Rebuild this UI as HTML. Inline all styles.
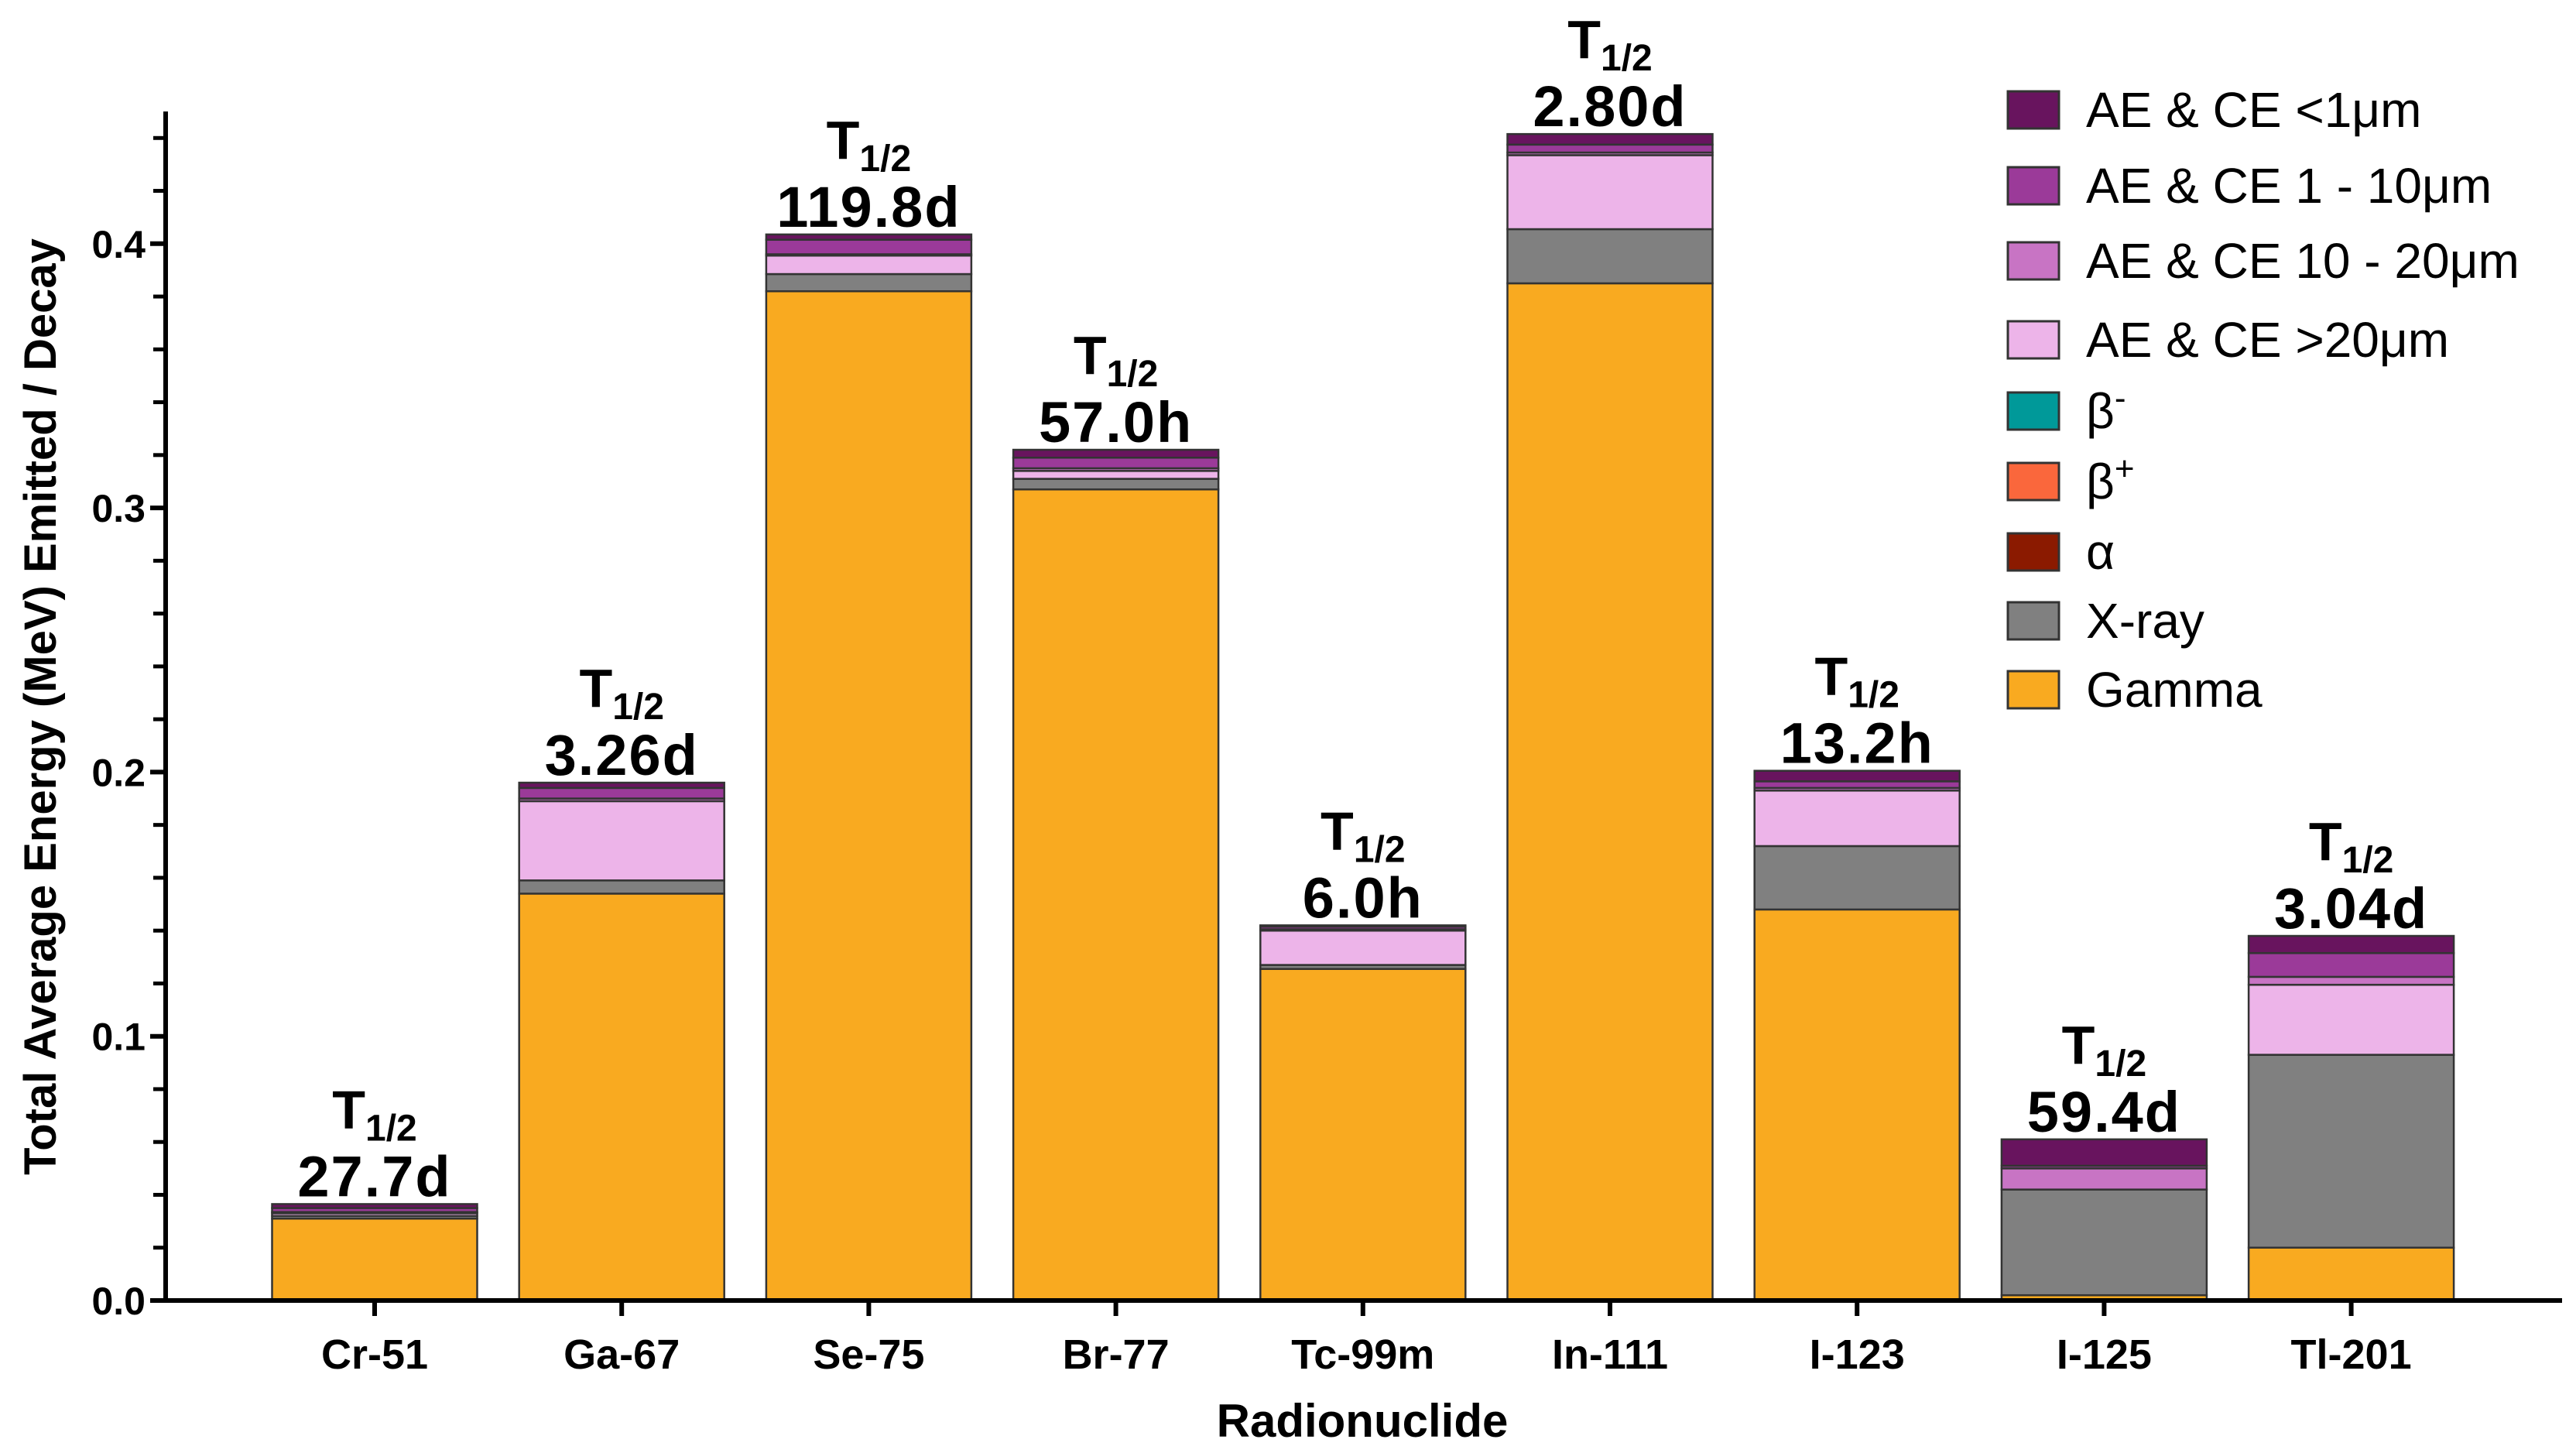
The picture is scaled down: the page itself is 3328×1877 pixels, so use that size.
<!DOCTYPE html>
<html><head><meta charset="utf-8"><style>
html,body{margin:0;padding:0;background:#fff;}
svg{display:block;font-family:"Liberation Sans",Arial,sans-serif;}
</style></head><body>
<svg id="chart" width="3328" height="1877" viewBox="0 0 3328 1877" xmlns="http://www.w3.org/2000/svg">
<g id="bars"></g>
<g id="axes"></g>
<g id="legend"></g>
</svg>
<script>
const categories = ["Cr-51","Ga-67","Se-75","Br-77","Tc-99m","In-111","I-123","I-125","Tl-201"];
const halfLives = ["27.7d","3.26d","119.8d","57.0h","6.0h","2.80d","13.2h","59.4d","3.04d"];
const seriesNames = ["Gamma","X-ray","α","β+","β-","AE & CE >20μm","AE & CE 10 - 20μm","AE & CE 1 - 10μm","AE & CE <1μm"];
const gamma   = [0.031,0.154,0.382,0.307,0.1255,0.385,0.148,0.002,0.020];
const xray    = [0.001,0.005,0.0065,0.004,0.0015,0.0205,0.024,0.040,0.073];
const alpha   = [0,0,0,0,0,0,0,0,0];
const betaPlus= [0,0,0,0,0,0,0,0,0];
const betaMinus=[0,0,0,0,0,0,0,0,0];
const ae20    = [0.001,0.030,0.007,0.003,0.013,0.028,0.021,0,0.0265];
const ae10_20 = [0.0005,0.001,0.0005,0.001,0.0005,0.001,0.001,0.008,0.003];
const ae1_10  = [0.0015,0.004,0.0055,0.004,0.001,0.003,0.0025,0.001,0.009];
const ae1     = [0.0015,0.002,0.002,0.003,0.0005,0.004,0.004,0.010,0.0065];
const yTicks = [0.0,0.1,0.2,0.3,0.4];
const yTickLabels = ["0.0","0.1","0.2","0.3","0.4"];

const series=[gamma,xray,alpha,betaPlus,betaMinus,ae20,ae10_20,ae1_10,ae1];
const colors=["#F9AA20","#808080","#8B1A00","#FA673C","#009999","#EDB4E9","#C874C4","#9B3A99","#68145E"];
const NS="http://www.w3.org/2000/svg";
const x0=214,yZero=1680,pxPer=3413,bx0=484,bstep=319.2,bw=265;
function yScale(v){return yZero-v*pxPer;}
function xScale(i){return bx0+i*bstep;}
function mk(tag,attrs,parent){const e=document.createElementNS(NS,tag);for(const k in attrs)e.setAttribute(k,attrs[k]);parent.appendChild(e);return e;}
const gb=document.getElementById('bars'),ga=document.getElementById('axes'),gl=document.getElementById('legend');
const slug=s=>s.toLowerCase().replace(/[^a-z0-9]+/g,'-').replace(/^-|-$/g,'');
categories.forEach((c,i)=>{
  let cum=0;const cx=xScale(i);
  series.forEach((s,k)=>{
    const v=s[i];if(v<=0)return;
    const r=mk('rect',{x:cx-bw/2,y:yScale(cum+v),width:bw,height:v*pxPer,fill:colors[k],stroke:"#333",'stroke-width':2.5},gb);
    
    
    cum+=v;
  });
  const top=yScale(cum);
  const t=mk('text',{x:cx,y:top-98,'text-anchor':'middle','font-size':70,'font-weight':'bold'},gb);
  
  
  t.innerHTML='T<tspan font-size="48" dy="16">1/2</tspan>';
  const h=mk('text',{x:cx,y:top-10,'text-anchor':'middle','font-size':74,'font-weight':'bold','letter-spacing':2},gb);
  
  
  h.textContent=halfLives[i];
  const tk=mk('line',{x1:cx,x2:cx,y1:yZero,y2:yZero+20,stroke:"#000",'stroke-width':6},ga);
  
  
  const lb=mk('text',{x:cx,y:1768,'text-anchor':'middle','font-size':54,'font-weight':'bold'},ga);
  
  
  lb.textContent=c;
});
const ya=mk('line',{x1:x0,x2:x0,y1:144,y2:yZero+3,stroke:"#000",'stroke-width':6},ga);

const xa=mk('line',{x1:x0-3,x2:3310,y1:yZero,y2:yZero,stroke:"#000",'stroke-width':6},ga);

for(let m=1;m<=22;m++){const v=m*0.02;if(m%5===0)continue;
  const l=mk('line',{x1:x0-16,x2:x0,y1:yScale(v),y2:yScale(v),stroke:"#000",'stroke-width':5},ga);
  }
yTicks.forEach((v,i)=>{
  const l=mk('line',{x1:x0-20,x2:x0,y1:yScale(v),y2:yScale(v),stroke:"#000",'stroke-width':6},ga);
  
  const t=mk('text',{x:x0-26,y:yScale(v)+18,'text-anchor':'end','font-size':50,'font-weight':'bold'},ga);
  
  t.textContent=yTickLabels[i];
});
const xt=mk('text',{x:1760,y:1856,'text-anchor':'middle','font-size':60,'font-weight':'bold'},ga);

xt.textContent='Radionuclide';
const yt=mk('text',{x:0,y:0,'text-anchor':'middle','font-size':58,'font-weight':'bold',transform:'translate(72,913) rotate(-90)'},ga);

yt.textContent='Total Average Energy (MeV) Emitted / Decay';
const legOrder=[8,7,6,5,4,3,2,1,0];
const legY=[142,240,337,439,531,622,713,802,891];
const legLabels=["AE & CE <1μm","AE & CE 1 - 10μm","AE & CE 10 - 20μm","AE & CE >20μm","β<tspan dy='-24' font-size='44'>-</tspan>","β<tspan dy='-24' font-size='44'>+</tspan>","α","X-ray","Gamma"];
legOrder.forEach((k,j)=>{
  const r=mk('rect',{x:2594,y:legY[j]-24,width:66,height:48,fill:colors[k],stroke:"#333",'stroke-width':3},gl);
  
  
  const t=mk('text',{x:2695,y:legY[j]+22,'font-size':64},gl);
  
  
  t.innerHTML=legLabels[j];
});
</script>
</body></html>
